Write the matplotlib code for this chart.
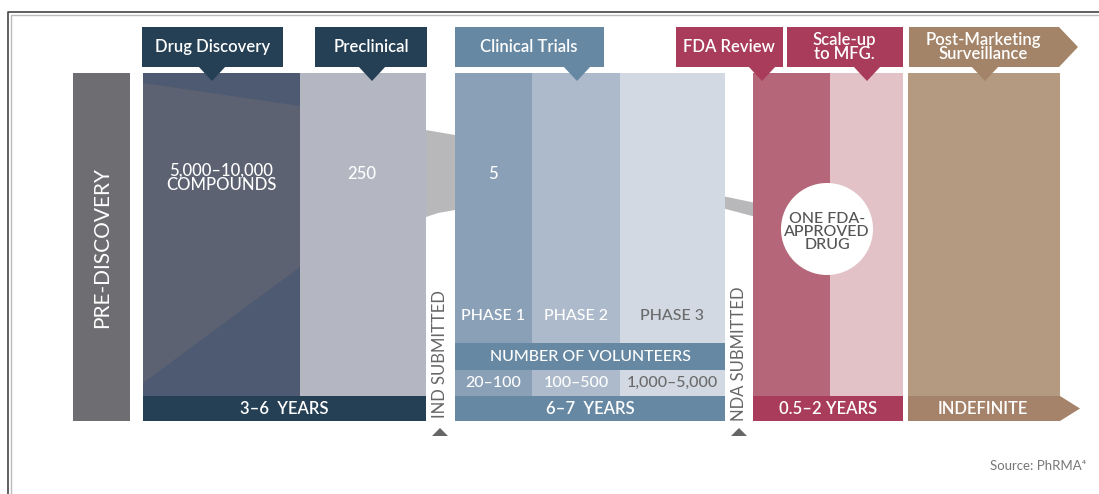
import matplotlib
matplotlib.use("Agg")
import matplotlib.pyplot as plt
from matplotlib.patches import Rectangle, Polygon, Circle

plt.rcParams['font.family'] = ['Lato', 'DejaVu Sans']

# stage headers: label, box x0, box x1, pointer x, colour
headers = ["Drug Discovery", "Preclinical", "Clinical Trials", "FDA Review",
           "Scale-up\nto MFG.", "Post-Marketing\nSurveillance"]
header_x = [(142, 283), (315, 427), (455, 604), (676, 783), (787, 903), (909, 1059)]
header_ptr = [212, 372, 577, 762, 867, 985]
header_col = ["#253f55", "#253f55", "#6688a3", "#a83c5a", "#a83c5a", "#a48468"]

# compounds left at each stage
counts = ["5,000\u201310,000\nCOMPOUNDS", "250", "5"]
count_x = [221, 362, 493]

# clinical phases and volunteers
phases = ["PHASE 1", "PHASE 2", "PHASE 3"]
volunteers = ["20\u2013100", "100\u2013500", "1,000\u20135,000"]
phase_x = [(455, 532), (532, 620), (620, 725)]
phase_col = ["#8aa0b7", "#adbacb", "#d2d9e3"]
phase_txt = ["white", "white", "#6a6a6a"]

# durations along the bottom
durations = ["3\u20136  YEARS", "6\u20137  YEARS", "0.5\u20132 YEARS", "INDEFINITE"]
dur_x = [(143, 426), (455, 725), (753, 903), (908, 1060)]
dur_col = ["#253f55", "#6688a3", "#a83c5a", "#a5836a"]

milestones = ["IND SUBMITTED", "NDA SUBMITTED"]
milestone_x = [440, 739]

fig = plt.figure(figsize=(10.99, 4.94), dpi=100)
ax = fig.add_axes([0, 0, 1, 1])
ax.set_xlim(0, 1099)
ax.set_ylim(494, 0)
ax.axis("off")

# frame lines
ax.plot([8, 8, 1099], [494, 12, 12], color="#444444", lw=1.2)
ax.plot([11, 11, 1099], [494, 15, 15], color="#bbbbbb", lw=1)

TOP, MID, BOT = 73, 396, 421

# funnel grey band behind the columns
ax.add_patch(Polygon([(420, 129), (455, 135), (455, 210), (438, 213), (426, 217), (420, 218)],
                     closed=True, fc="#b8b8ba", ec="none", zorder=1))
ax.add_patch(Polygon([(722, 196), (756, 203), (756, 217), (722, 208)],
                     closed=True, fc="#b8b8ba", ec="none", zorder=1))

# pre-discovery
ax.add_patch(Rectangle((73, TOP), 57, BOT - TOP, fc="#6e6e72", ec="none", zorder=2))
ax.text(102, 247, "PRE-DISCOVERY", rotation=90, color="white", fontsize=15,
        ha="center", va="center", zorder=3)

# drug discovery column with its two bluer wedges
ax.add_patch(Rectangle((143, TOP), 157, MID - TOP, fc="#5c6271", ec="none", zorder=2))
ax.add_patch(Polygon([(143, TOP), (300, TOP), (300, 106), (143, 83)],
                     closed=True, fc="#4e5a72", ec="none", zorder=2))
ax.add_patch(Polygon([(143, 383), (300, 267), (300, MID), (143, MID)],
                     closed=True, fc="#4e5a72", ec="none", zorder=2))
# preclinical
ax.add_patch(Rectangle((300, TOP), 126, MID - TOP, fc="#b4b6c2", ec="none", zorder=2))

# clinical phases
for (x0, x1), c, p, v, tc in zip(phase_x, phase_col, phases, volunteers, phase_txt):
    ax.add_patch(Rectangle((x0, TOP), x1 - x0, 343 - TOP, fc=c, ec="none", zorder=2))
    ax.add_patch(Rectangle((x0, 370), x1 - x0, MID - 370, fc=c, ec="none", zorder=2))
    xc = (x0 + x1) / 2
    ax.text(xc, 316, p, color=tc, fontsize=11.5, fontweight="medium",
            ha="center", va="center", zorder=3)
    ax.text(xc, 383, v, color=tc, fontsize=11.5, fontweight="medium",
            ha="center", va="center", zorder=3)
ax.add_patch(Rectangle((455, 343), 270, 27, fc="#6688a3", ec="none", zorder=2))
ax.text(590, 356.5, "NUMBER OF VOLUNTEERS", color="white", fontsize=11.5,
        fontweight="medium", ha="center", va="center", zorder=3)

# FDA review / scale-up
ax.add_patch(Rectangle((753, TOP), 77, MID - TOP, fc="#b56678", ec="none", zorder=2))
ax.add_patch(Rectangle((830, TOP), 73, MID - TOP, fc="#e2c1c7", ec="none", zorder=2))
ax.add_patch(Circle((827, 229), 46, fc="white", ec="none", zorder=3))
ax.text(827, 232, "ONE FDA-\nAPPROVED\nDRUG", color="#555555", fontsize=11.5,
        fontweight="medium", ha="center", va="center", linespacing=0.95, zorder=4)

# post-marketing
ax.add_patch(Rectangle((908, TOP), 152, MID - TOP, fc="#b49a80", ec="none", zorder=2))

# duration bars
for (x0, x1), c, d in zip(dur_x, dur_col, durations):
    if d == "INDEFINITE":
        ax.add_patch(Polygon([(x0, MID), (x1, MID), (1080, 408.5), (x1, BOT), (x0, BOT)],
                             closed=True, fc=c, ec="none", zorder=2))
        xc = 983
    else:
        ax.add_patch(Rectangle((x0, MID), x1 - x0, BOT - MID, fc=c, ec="none", zorder=2))
        xc = (x0 + x1) / 2
    ax.text(xc, 409, d, color="white", fontsize=12, fontweight="semibold",
            ha="center", va="center", zorder=3)

# compound counts
for x, t in zip(count_x, counts):
    ax.text(x, 178 if "\n" in t else 174, t, color="white", fontsize=12,
            fontweight="medium", ha="center", va="center", linespacing=0.9, zorder=3)

# milestones
for x, t in zip(milestone_x, milestones):
    ax.text(x, 354, t, rotation=90, color="#666666", fontsize=12,
            ha="center", va="center", zorder=3)
    ax.add_patch(Polygon([(x - 8, 436), (x + 8, 436), (x, 428)], closed=True,
                         fc="#666666", ec="none", zorder=3))

# stage header callouts
for t, (x0, x1), px, c in zip(headers, header_x, header_ptr, header_col):
    if t.startswith("Post"):
        ax.add_patch(Polygon([(x0, 27), (x1, 27), (1078, 47), (x1, 67), (x0, 67)],
                             closed=True, fc=c, ec="none", zorder=4))
    else:
        ax.add_patch(Rectangle((x0, 27), x1 - x0, 40, fc=c, ec="none", zorder=4))
    ax.add_patch(Polygon([(px - 14, 66), (px + 14, 66), (px, 81)], closed=True,
                         fc=c, ec="none", zorder=4))
    xc = (x0 + x1) / 2
    if t.startswith("Clinical"):
        xc = 529
    elif t.startswith("FDA"):
        xc = 729
    elif t.startswith("Scale"):
        xc = 844
    elif t.startswith("Post"):
        xc = 983
    ax.text(xc, 47, t, color="white", fontsize=12, fontweight="semibold",
            ha="center", va="center", linespacing=0.85, zorder=5)

ax.text(1086, 466, "Source: PhRMA\u2074", color="#777777", fontsize=9.5,
        ha="right", va="center")

fig.savefig("out.png", dpi=100)
